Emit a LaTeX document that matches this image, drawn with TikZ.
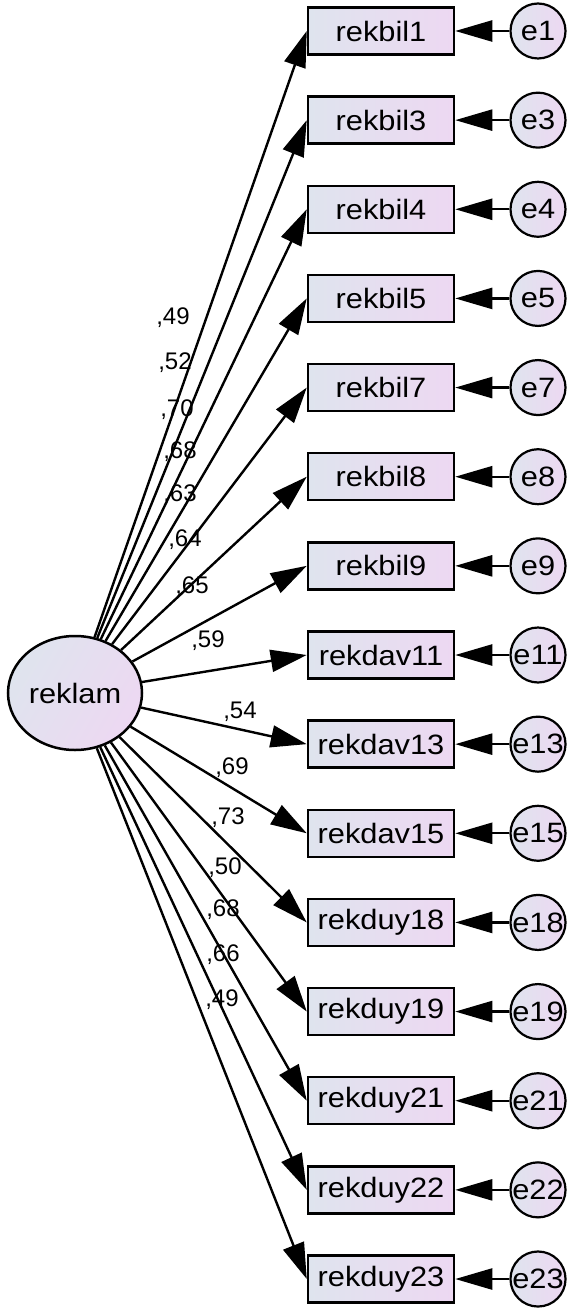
\documentclass[tikz,border=0pt]{standalone}
\usepackage{fontspec}
\setmainfont{Liberation Sans}
\newfontfamily\widesans[FakeStretch=1.1]{Liberation Sans}
\usetikzlibrary{arrows.meta,shapes.geometric}
\definecolor{fillA}{HTML}{DFE4EE}
\definecolor{fillB}{HTML}{EDD8F2}
\begin{document}
\begin{tikzpicture}[x=1pt,y=-1pt,
  obs/.style={draw=black,line width=2.5pt,minimum width=146pt,minimum height=47pt,
    inner sep=0pt,left color=fillA,right color=fillB,
    font=\widesans\fontsize{28}{30}\selectfont},
  err/.style={circle,draw=black,line width=2.2pt,minimum size=55pt,inner sep=0pt,
    left color=fillA,right color=fillB,font=\widesans\fontsize{28}{30}\selectfont},
  lat/.style={ellipse,draw=black,line width=2.5pt,minimum width=134pt,minimum height=114pt,
    inner sep=0pt,left color=fillA,right color=fillB,shading angle=60,
    font=\widesans\fontsize{28}{30}\selectfont},
  load/.style={line width=2.4pt,-{Triangle[length=36pt,width=22pt]}},
  resid/.style={line width=2.4pt,-{Triangle[length=37pt,width=21pt]}},
  coef/.style={font=\fontsize{24}{26}\selectfont,inner sep=0pt}]
\useasboundingbox (0,0) rectangle (570,1313);

% latent factor
\node[lat] (reklam) at (75,693) {reklam};

% indicators with their error terms
\foreach \n/\e [count=\i from 0] in {rekbil1/e1,rekbil3/e3,rekbil4/e4,rekbil5/e5,
    rekbil7/e7,rekbil8/e8,rekbil9/e9,rekdav11/e11,rekdav13/e13,rekdav15/e15,
    rekduy18/e18,rekduy19/e19,rekduy21/e21,rekduy22/e22,rekduy23/e23} {
  \pgfmathsetmacro{\yy}{31+89.143*\i}
  \node[obs] (\n) at (381,\yy) {\n};
  \node[err] (\e) at (538,\yy) {\e};
  \draw[resid] (\e) -- (\n);
  \draw[load] (reklam) -- (\n.west);
}

% standardized loadings
\foreach \v/\x/\y [count=\k] in {{,49}/173/318, {,52}/175/363, {,70}/177/410,
    {,68}/180/452, {,63}/180/495, {,64}/185/540, {,65}/192/587, {,59}/208/641,
    {,54}/240/712, {,69}/232/768, {,73}/228/818, {,50}/225/868, {,68}/223/910,
    {,66}/223/955, {,49}/222/1000} {
  \node[coef] (c\k) at (\x,\y) {\v};
}
\end{tikzpicture}
\end{document}
